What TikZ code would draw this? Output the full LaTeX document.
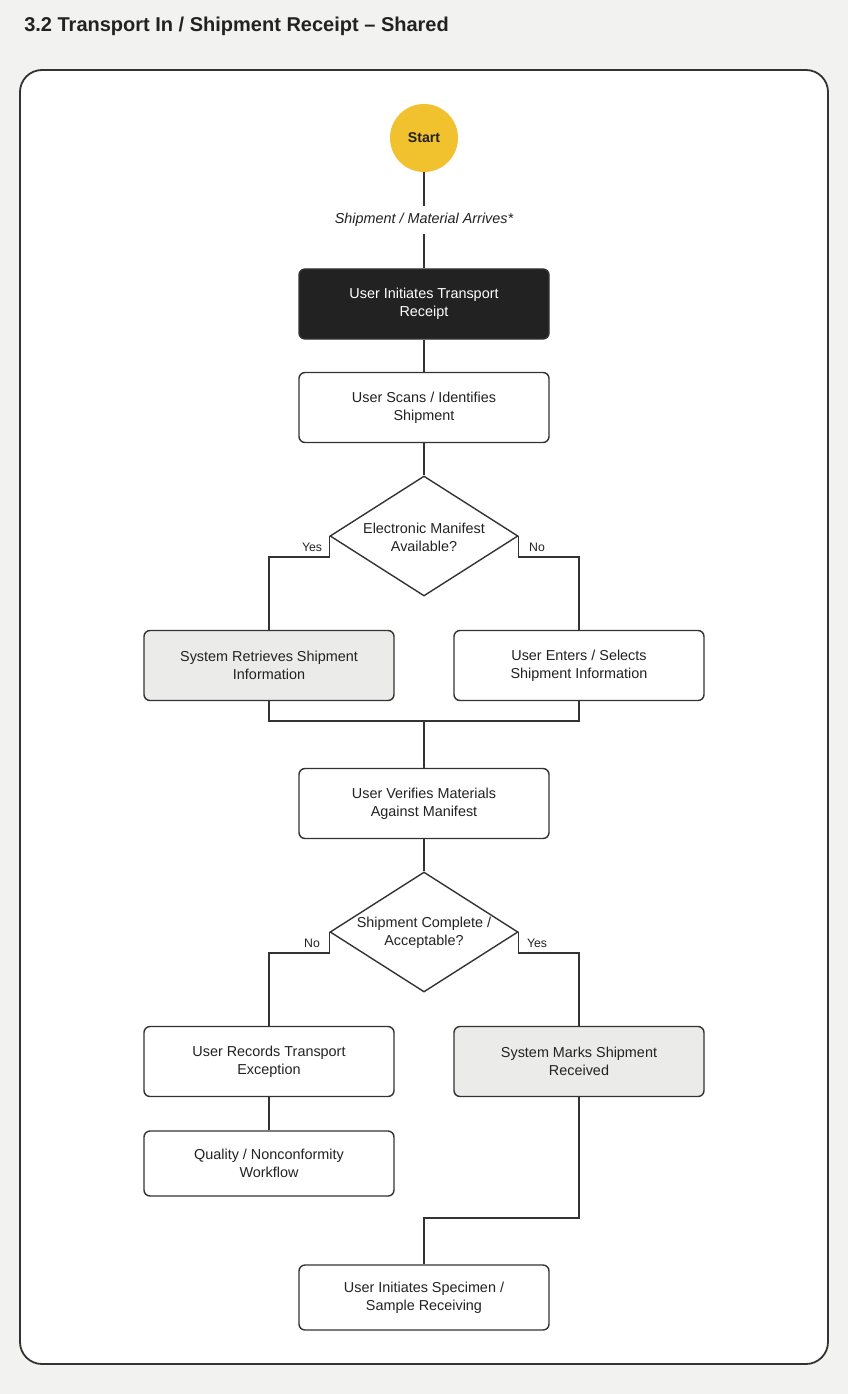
\documentclass[tikz,border=0pt]{standalone}
\usepackage{fontspec}
\setmainfont{Liberation Sans}
\usetikzlibrary{shapes.geometric}
\newdimen\pxu \pxu=0.75pt
\definecolor{bg}{HTML}{F2F2F0}
\definecolor{ink}{HTML}{222222}
\definecolor{edge}{HTML}{333333}
\definecolor{sysfill}{HTML}{EBEBEA}
\definecolor{startc}{HTML}{F2C12E}
\begin{document}
\begin{tikzpicture}[x=0.75pt,y=-0.75pt,
  every node/.style={text=ink},
  boxbase/.style={rectangle, rounded corners=6\pxu, draw=edge, line width=1.4\pxu,
    minimum width=250\pxu, minimum height=70\pxu, align=center, inner sep=0pt,
    font=\fontsize{10.8pt}{13.5pt}\selectfont},
  userbox/.style={boxbase, fill=white},
  sysbox/.style={boxbase, fill=sysfill},
  darkbox/.style={boxbase, fill=ink, text=white},
  decision/.style={diamond, draw=edge, line width=1.4\pxu, fill=white,
    minimum width=188\pxu, minimum height=120\pxu, inner sep=0pt},
  dtext/.style={align=center, inner sep=0pt, font=\fontsize{10.8pt}{13.5pt}\selectfont},
  conn/.style={draw=edge, line width=1.4\pxu},
  branch/.style={font=\fontsize{9.2pt}{11pt}\selectfont, inner sep=0pt},
]
\fill[bg] (0,0) rectangle (848,1394);
\useasboundingbox (0,0) rectangle (848,1394);
\node[anchor=west, inner sep=0pt, font=\bfseries\fontsize{15pt}{18pt}\selectfont] (title) at (24,26) {3.2 Transport In / Shipment Receipt – Shared};
\draw[rounded corners=22\pxu, fill=white, draw=edge, line width=1.8\pxu] (20,70) rectangle (828,1364);

\node[circle, fill=startc, minimum size=68\pxu, inner sep=0pt, font=\bfseries\fontsize{10.6pt}{13pt}\selectfont] (start) at (424,138) {Start};
\node[minimum height=28\pxu, inner sep=0pt, font=\itshape\fontsize{10.8pt}{13pt}\selectfont] (arr) at (424,220) {Shipment / Material Arrives*};
\node[darkbox] (b1) at (424,304) {User Initiates Transport\\Receipt};
\node[userbox] (b2) at (424,407.5) {User Scans / Identifies\\Shipment};
\node[decision] (d1) at (424,536) {};
\node[dtext] (d1t) at (424,537) {Electronic Manifest\\Available?};
\node[sysbox] (b3) at (269,665.5) {System Retrieves Shipment\\Information};
\node[userbox] (b4) at (579,665.5) {User Enters / Selects\\Shipment Information};
\coordinate (m1) at (424,721);
\node[userbox] (b5) at (424,803.5) {User Verifies Materials\\Against Manifest};
\node[decision] (d2) at (424,932) {};
\node[dtext] (d2t) at (424,933) {Shipment Complete /\\Acceptable?};
\node[userbox] (b6) at (269,1061.5) {User Records Transport\\Exception};
\node[sysbox] (b7) at (579,1061.5) {System Marks Shipment\\Received};
\node[userbox, minimum height=65\pxu] (b8) at (269,1163.5) {Quality / Nonconformity\\Workflow};
\coordinate (m2) at (424,1218);
\node[userbox, minimum height=65\pxu] (b9) at (424,1297.5) {User Initiates Specimen /\\Sample Receiving};

\node[branch] (yes1) at (312,547) {Yes};
\node[branch] (no1) at (537,547) {No};
\node[branch] (no2) at (312,943) {No};
\node[branch] (yes2) at (537,943) {Yes};

\draw[conn] (start) -- (arr.north);
\draw[conn] (arr.south) -- (b1.north);
\draw[conn] (b1) -- (b2);
\draw[conn] (b2.south) -- (d1.north);
\draw[conn] (d1.west) -- ++(0,21) -| (b3.north);
\draw[conn] (d1.east) -- ++(0,21) -| (b4.north);
\draw[conn] (b3.south) |- (m1) -| (b4.south);
\draw[conn] (m1) -- (b5.north);
\draw[conn] (b5.south) -- (d2.north);
\draw[conn] (d2.west) -- ++(0,21) -| (b6.north);
\draw[conn] (d2.east) -- ++(0,21) -| (b7.north);
\draw[conn] (b6) -- (b8);
\draw[conn] (b7.south) |- (m2) -- (b9.north);
\end{tikzpicture}
\end{document}
